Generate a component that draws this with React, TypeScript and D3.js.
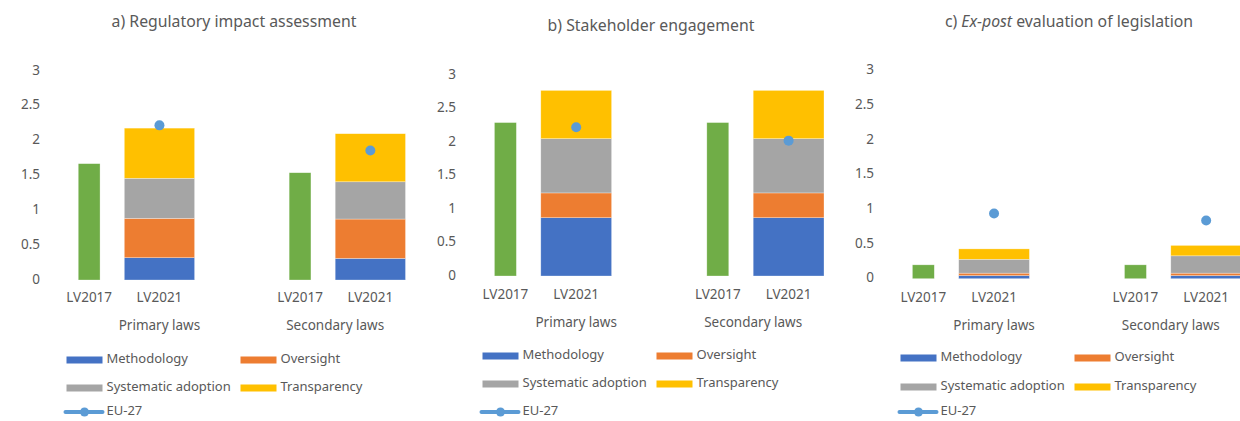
import React from "react";
import * as d3 from "d3";

// ---------- data ----------
const categories = ["LV2017", "LV2021", "", "LV2017", "LV2021"];
const groupNames = ["Primary laws", "Secondary laws"];
const groupCategoryIndex = [[0, 1, 2], [3, 4]];
const lv2017Index = [0, 3];
const lv2021Index = [1, 4];
const yTicks = [0, 0.5, 1, 1.5, 2, 2.5, 3];
const seriesNames = ["Methodology", "Oversight", "Systematic adoption", "Transparency"];
const euName = "EU-27";

// a) Regulatory impact assessment  [Primary, Secondary]
const methodologyA = [0.32, 0.31];
const oversightA = [0.565, 0.565];
const systematicA = [0.575, 0.535];
const transparencyA = [0.72, 0.69];
const lv2017A = [1.67, 1.54];
const eu27A = [2.22, 1.86];

// b) Stakeholder engagement
const methodologyB = [0.87, 0.87];
const oversightB = [0.37, 0.37];
const systematicB = [0.81, 0.81];
const transparencyB = [0.72, 0.72];
const lv2017B = [2.29, 2.29];
const eu27B = [2.22, 2.02];

// c) Ex-post evaluation of legislation
const methodologyC = [0.045, 0.045];
const oversightC = [0.035, 0.035];
const systematicC = [0.2, 0.25];
const transparencyC = [0.15, 0.15];
const lv2017C = [0.2, 0.2];
const eu27C = [0.94, 0.84];

// ---------- styles ----------
const seriesColors = ["#4472C4", "#ED7D31", "#A5A5A5", "#FFC000"];
const greenColor = "#70AD47";
const euColor = "#5B9BD5";
const textColor = "#595959";
const FONT = "'Noto Sans', 'Open Sans', sans-serif";

type PanelData = {
  title: React.ReactNode;
  stacks: number[][];
  lv2017: number[];
  eu27: number[];
};

type Layout = {
  x0: number; x1: number; y0: number; y3: number;
  titleX: number; titleY: number; catY: number; groupY: number;
  legendY: number[];
};

const panels: PanelData[] = [
  {
    title: "a) Regulatory impact assessment",
    stacks: [methodologyA, oversightA, systematicA, transparencyA],
    lv2017: lv2017A,
    eu27: eu27A,
  },
  {
    title: "b) Stakeholder engagement",
    stacks: [methodologyB, oversightB, systematicB, transparencyB],
    lv2017: lv2017B,
    eu27: eu27B,
  },
  {
    title: (
      <>
        <tspan>c) </tspan>
        <tspan fontStyle="italic">Ex-post</tspan>
        <tspan> evaluation of legislation</tspan>
      </>
    ),
    stacks: [methodologyC, oversightC, systematicC, transparencyC],
    lv2017: lv2017C,
    eu27: eu27C,
  },
];

const layouts: Layout[] = [
  { x0: 54, x1: 405.5, y0: 280, y3: 71, titleX: 234, titleY: 23, catY: 298, groupY: 326, legendY: [360, 388, 412] },
  { x0: 470, x1: 824, y0: 276, y3: 75, titleX: 651, titleY: 27, catY: 295, groupY: 323, legendY: [356, 384, 412] },
  { x0: 888, x1: 1241.5, y0: 278.7, y3: 70.7, titleX: 1069, titleY: 23, catY: 298, groupY: 326, legendY: [358, 387, 412] },
];

function Panel({ data, layout }: { data: PanelData; layout: Layout }) {
  const keys = categories.map((_, i) => String(i));
  const x = d3.scaleBand<string>().domain(keys).range([layout.x0, layout.x1]).paddingInner(0).paddingOuter(0);
  const y = d3.scaleLinear().domain([0, 3]).range([layout.y0, layout.y3]);
  const step = x.bandwidth();
  const greenW = step * 0.31;
  const center = (i: number) => (x(String(i)) as number) + step / 2;

  const rows = data.lv2017.map((_, g) => {
    const r: any = { g };
    seriesNames.forEach((n, s) => (r[n] = data.stacks[s][g]));
    return r;
  });
  const stacked = d3.stack<any>().keys(seriesNames)(rows);

  const legendX = layout.x0 + 12.5;
  const legendX2 = layout.x0 + 186.5;
  const swW = 36;
  const legendItems = seriesNames.map((n, i) => ({
    name: n,
    color: seriesColors[i],
    x: i % 2 === 0 ? legendX : legendX2,
    y: layout.legendY[Math.floor(i / 2)],
  }));

  return (
    <g>
      <text x={layout.titleX} y={layout.titleY} textAnchor="middle" dominantBaseline="middle" fontSize={15.8} fill={textColor}>
        {data.title}
      </text>
      {yTicks.map((t) => (
        <text key={t} x={layout.x0 - 14} y={y(t)} textAnchor="end" dominantBaseline="middle" fontSize={13.5} fill={textColor}>
          {d3.format("~g")(t)}
        </text>
      ))}
      {data.lv2017.map((v, g) => (
        <rect key={"g" + g} x={center(lv2017Index[g]) - greenW / 2} y={y(v)} width={greenW} height={y(0) - y(v)} fill={greenColor} stroke="#ffffff" strokeOpacity={0.5} strokeWidth={0.6} />
      ))}
      {stacked.map((layer, s) =>
        layer.map((seg, g) => (
          <rect key={s + "-" + g} x={x(String(lv2021Index[g])) as number} y={y(seg[1])} width={step} height={y(seg[0]) - y(seg[1])} fill={seriesColors[s]} stroke="#ffffff" strokeOpacity={0.5} strokeWidth={0.6} />
        ))
      )}
      {data.eu27.map((v, g) => (
        <circle key={"e" + g} cx={center(lv2021Index[g])} cy={y(v)} r={5} fill={euColor} />
      ))}
      {categories.map((c, i) =>
        c ? (
          <text key={"c" + i} x={center(i)} y={layout.catY} textAnchor="middle" dominantBaseline="middle" fontSize={13.5} fill={textColor}>
            {c}
          </text>
        ) : null
      )}
      {groupNames.map((n, gi) => (
        <text key={n} x={d3.mean(groupCategoryIndex[gi].map(center)) as number} y={layout.groupY} textAnchor="middle" dominantBaseline="middle" fontSize={13.5} fill={textColor}>
          {n}
        </text>
      ))}
      {legendItems.map((it) => (
        <g key={it.name}>
          <rect x={it.x} y={it.y - 3.5} width={swW} height={7} fill={it.color} />
          <text x={it.x + swW + 4} y={it.y} dominantBaseline="middle" fontSize={13} fill={textColor}>
            {it.name}
          </text>
        </g>
      ))}
      <g>
        <line x1={legendX - 1} x2={legendX + swW} y1={layout.legendY[2]} y2={layout.legendY[2]} stroke={euColor} strokeWidth={4} strokeLinecap="round" />
        <circle cx={legendX + swW / 2} cy={layout.legendY[2]} r={4.5} fill={euColor} />
        <text x={legendX + swW + 4} y={layout.legendY[2]} dominantBaseline="middle" fontSize={13} fill={textColor}>
          {euName}
        </text>
      </g>
    </g>
  );
}

export default function App() {
  return (
    <svg width={1240} height={421} style={{ position: "absolute", left: 0, top: 0, fontFamily: FONT, background: "#ffffff" }}>
      <rect x={0} y={0} width={1240} height={421} fill="#ffffff" />
      {panels.map((p, i) => (
        <Panel key={i} data={p} layout={layouts[i]} />
      ))}
    </svg>
  );
}
